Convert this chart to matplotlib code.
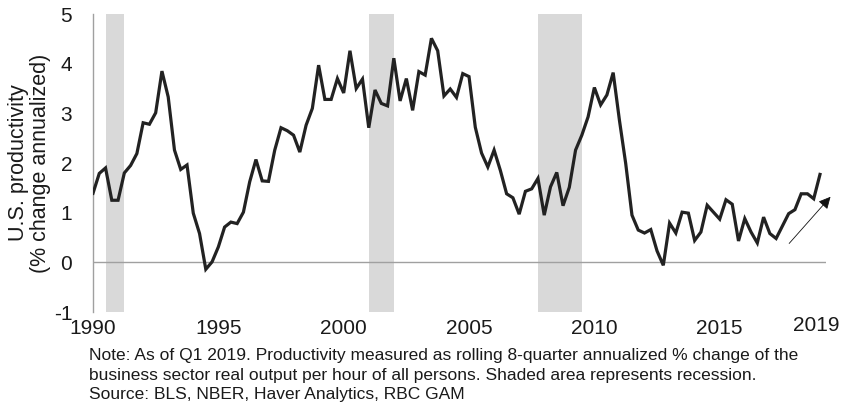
import numpy as np
from matplotlib import pyplot as plt

# Quarterly productivity, Q1 1990 .. Q1 2019
productivity = [
    1.39, 1.79, 1.90, 1.25, 1.25, 1.80, 1.95, 2.19, 2.81, 2.78,
    3.01, 3.85, 3.33, 2.26, 1.87, 1.96, 0.99, 0.58, -0.14, 0.01,
    0.31, 0.71, 0.81, 0.78, 1.01, 1.62, 2.07, 1.64, 1.63, 2.26,
    2.71, 2.65, 2.56, 2.22, 2.76, 3.10, 3.97, 3.28, 3.28, 3.70,
    3.41, 4.26, 3.50, 3.69, 2.71, 3.47, 3.20, 3.15, 4.11, 3.25,
    3.70, 3.06, 3.84, 3.77, 4.51, 4.26, 3.35, 3.49, 3.32, 3.80,
    3.74, 2.72, 2.20, 1.92, 2.26, 1.85, 1.38, 1.30, 0.97, 1.43,
    1.48, 1.69, 0.95, 1.52, 1.81, 1.14, 1.51, 2.26, 2.56, 2.93,
    3.52, 3.17, 3.37, 3.82, 2.86, 1.99, 0.95, 0.65, 0.59, 0.66,
    0.23, -0.06, 0.79, 0.59, 1.01, 0.99, 0.44, 0.61, 1.15, 1.01,
    0.87, 1.26, 1.17, 0.43, 0.88, 0.61, 0.39, 0.91, 0.58, 0.48,
    0.73, 0.98, 1.06, 1.38, 1.38, 1.28, 1.77,
]
start_year = 1990
dates = start_year + np.arange(len(productivity)) / 4.0

# NBER recessions (start, end) in decimal years
recessions = [(1990.5, 1991.25), (2001.0, 2002.0), (2007.75, 2009.5)]

year_ticks = [1990, 1995, 2000, 2005, 2010, 2015]
last_year = 2019
y_ticks = [-1, 0, 1, 2, 3, 4, 5]

note = ('Note: As of Q1 2019. Productivity measured as rolling 8-quarter annualized % change of the\n'
        'business sector real output per hour of all persons. Shaded area represents recession.\n'
        'Source: BLS, NBER, Haver Analytics, RBC GAM')

font = ['Liberation Sans', 'DejaVu Sans']
text_color = '#1a1a1a'

fig = plt.figure(figsize=(8.48, 4.08), dpi=100)
ax = fig.add_axes([93 / 848, 96 / 408, (826 - 93) / 848, (312 - 14) / 408])

for start, end in recessions:
    ax.axvspan(start, end, color='#d9d9d9', lw=0, zorder=0)
ax.axhline(0, color='#a0a0a0', lw=1, zorder=1)
ax.plot(dates, productivity, color='#222222', lw=2.3, zorder=3,
        solid_joinstyle='miter')

ax.set_xlim(1990, 2019.24)
ax.set_ylim(-1, 5)
ax.set_yticks(y_ticks)
ax.set_yticklabels([str(v) for v in y_ticks], family=font, fontsize=15, color=text_color)
ax.set_xticks(year_ticks)
ax.set_xticklabels([str(v) for v in year_ticks], family=font, fontsize=15, color=text_color)
ax.tick_params(axis='both', length=0)
ax.tick_params(axis='x', pad=5)
ax.tick_params(axis='y', pad=15)
ax.annotate(str(last_year), xy=(last_year, 0), xycoords=('data', 'axes fraction'),
            xytext=(-3, -3), textcoords='offset points', ha='center', va='top',
            family=font, fontsize=15, color=text_color, annotation_clip=False)

for side in ['top', 'right', 'bottom']:
    ax.spines[side].set_visible(False)
ax.spines['left'].set_color('#a0a0a0')
ax.spines['left'].set_linewidth(1)

ax.set_ylabel('U.S. productivity\n(% change annualized)', family=font,
              fontsize=15.5, color=text_color, linespacing=1.05, labelpad=2)

# trend arrow
ax.annotate('', xy=(2019.42, 1.32), xytext=(2017.77, 0.38),
            arrowprops=dict(arrowstyle='-|>', color='#111111', lw=0.6,
                            mutation_scale=18, shrinkA=0, shrinkB=0),
            annotation_clip=False)

fig.text(89 / 848, 1 - 348 / 408, note, family=font, fontsize=12.5,
         color=text_color, va='top', ha='left', linespacing=1.38)

fig.savefig('out.png', dpi=100)
